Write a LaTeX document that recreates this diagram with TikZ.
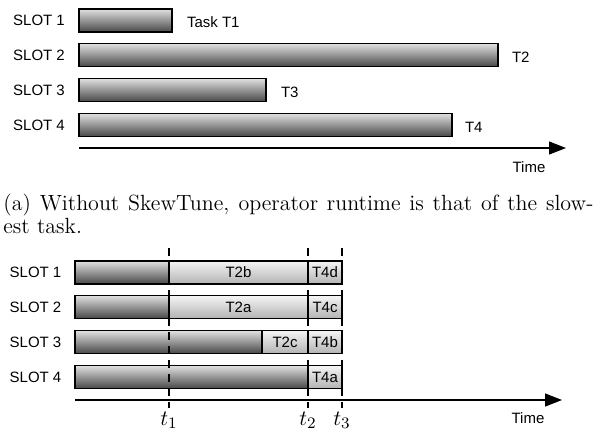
\documentclass[tikz,border=0pt]{standalone}
\usepackage{fontspec}
\setsansfont{Liberation Sans}
\usepackage{amsmath}
\usetikzlibrary{arrows.meta}

\begin{document}
\begin{tikzpicture}[x=0.5pt,y=-0.5pt,
        slotlbl/.style={font=\sffamily\fontsize{7.5}{9}\selectfont},
        tasklbl/.style={font=\sffamily\fontsize{7.5}{9}\selectfont, anchor=west},
        darkbar/.style={draw=black, line width=0.6pt, top color=black!12, bottom color=black!72},
        lightbar/.style={draw=black, line width=0.6pt, top color=black!4, bottom color=black!30},
        timeaxis/.style={line width=0.6pt, -{Triangle[length=8.5pt,width=6.5pt]}},
        marker/.style={line width=0.6pt, dash pattern=on 4pt off 3pt}]
        \useasboundingbox (0,0) rectangle (608,430);

        % Without SkewTune: slot labels
        \foreach \i/\y in {1/20.5,2/55,3/90,4/125}
            \node[slotlbl] (topslot\i) at (39,\y) {SLOT \i};

        % Task bars, one per slot
        \foreach \y/\e in {20.5/172,55/498,90/266,125/452}
            \shade[darkbar] (79,\y-11.5) rectangle (\e,\y+11.5);

        % Task names behind the bars
        \node[tasklbl] (taskA) at (180,22) {Task T1};
        \node[tasklbl] (taskB) at (505,57) {T2};
        \node[tasklbl] (taskC) at (274,92) {T3};
        \node[tasklbl] (taskD) at (458,127) {T4};

        % Time axis
        \coordinate (startA) at (79,148);
        \coordinate (endA) at (566,148);
        \draw[timeaxis] (startA) -- (endA);
        \node[slotlbl] (timeA) at (529,167) {Time};

        % Caption of the first part
        \node[anchor=north west, align=left, inner sep=0pt,
              font=\fontsize{11}{11.5}\selectfont] (capA) at (3,194)
            {\makebox[295pt][s]{(a) Without SkewTune, operator runtime is that of the slow-}\\est task.};

        % With SkewTune: slot labels
        \foreach \i/\y in {1/272.5,2/307,3/342,4/377}
            \node[slotlbl] (botslot\i) at (35.5,\y) {SLOT \i};

        % Own work of each slot
        \foreach \y/\e in {272.5/169,307/169,342/262,377/308}
            \shade[darkbar] (75,\y-11.5) rectangle (\e,\y+11.5);

        % Pieces of T2 after the split
        \shade[lightbar] (169,261) rectangle (308,284);
        \shade[lightbar] (169,295.5) rectangle (308,318.5);
        \shade[lightbar] (262,330.5) rectangle (308,353.5);
        \node[slotlbl] (partBb) at (238.5,272.5) {T2b};
        \node[slotlbl] (partBa) at (238.5,307) {T2a};
        \node[slotlbl] (partBc) at (285,342) {T2c};

        % Pieces of T4 after the split
        \foreach \y/\p in {272.5/d,307/c,342/b,377/a} {
            \shade[lightbar] (308,\y-11.5) rectangle (342,\y+11.5);
            \node[slotlbl] (partD\p) at (325,\y) {T4\p};
        }

        % Time marks
        \foreach \i/\x in {1/169,2/308,3/342} {
            \coordinate (mtop\i) at (\x,248);
            \coordinate (mbot\i) at (\x,408);
            \draw[marker] (mtop\i) -- (mbot\i);
            \node[font=\fontsize{11}{13}\selectfont] (tmark\i) at (\x,420) {$t_\i$};
        }

        % Time axis
        \coordinate (startB) at (75,400);
        \coordinate (endB) at (562,400);
        \draw[timeaxis] (startB) -- (endB);
        \node[slotlbl] (timeB) at (528,418) {Time};
    \end{tikzpicture}
\end{document}
